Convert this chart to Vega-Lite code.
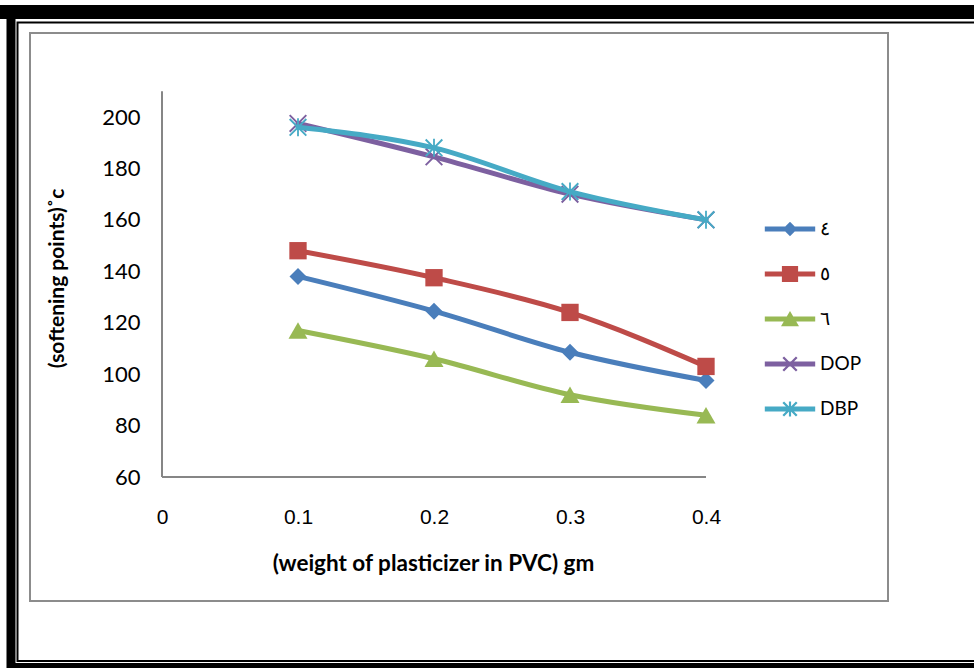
{
  "$schema": "https://vega.github.io/schema/vega-lite/v6.json",
  "width": 858,
  "height": 568,
  "autosize": {"type": "none"},
  "padding": {"left": 30, "top": 33, "right": 86, "bottom": 67},
  "background": "white",
  "config": {
    "view": {"stroke": "#8c8c8c", "strokeWidth": 2},
    "axis": {"grid": false, "domain": false, "ticks": false}
  },
  "datasets": {
    "pts": [
      {"series": "٤", "x": 0.1, "y": 138},
      {"series": "٤", "x": 0.2, "y": 124.5},
      {"series": "٤", "x": 0.3, "y": 108.5},
      {"series": "٤", "x": 0.4, "y": 97.5},
      {"series": "٥", "x": 0.1, "y": 148},
      {"series": "٥", "x": 0.2, "y": 137.5},
      {"series": "٥", "x": 0.3, "y": 124},
      {"series": "٥", "x": 0.4, "y": 103},
      {"series": "٦", "x": 0.1, "y": 117},
      {"series": "٦", "x": 0.2, "y": 106},
      {"series": "٦", "x": 0.3, "y": 92},
      {"series": "٦", "x": 0.4, "y": 84},
      {"series": "DOP", "x": 0.1, "y": 197.5},
      {"series": "DOP", "x": 0.2, "y": 184.5},
      {"series": "DOP", "x": 0.3, "y": 170},
      {"series": "DOP", "x": 0.4, "y": 160},
      {"series": "DBP", "x": 0.1, "y": 196},
      {"series": "DBP", "x": 0.2, "y": 188},
      {"series": "DBP", "x": 0.3, "y": 171},
      {"series": "DBP", "x": 0.4, "y": 160}
    ],
    "one": [{"k": 1}]
  },
  "layer": [
    {
      "data": {"name": "one"},
      "mark": {"type": "rule", "color": "#868686", "strokeWidth": 2},
      "encoding": {
        "x": {"datum": 0, "type": "quantitative",
          "scale": {"domain": [-0.097059, 0.533824], "nice": false, "zero": false},
          "axis": {
            "values": [0, 0.1, 0.2, 0.3, 0.4],
            "format": "~g",
            "offset": -124,
            "labelPadding": 29,
            "labelFont": "Liberation Sans",
            "labelFontSize": 21,
            "labelColor": "black",
            "title": "(weight of plasticizer in PVC) gm",
            "titleFont": "Lato",
            "titleFontSize": 22.5,
            "titleFontWeight": "bold",
            "titleColor": "black",
            "titleX": 403,
            "titleY": 86,
            "titleBaseline": "middle",
            "titleAlign": "center"
          }
        },
        "x2": {"datum": 0.4},
        "y": {"datum": 60, "type": "quantitative",
          "scale": {"domain": [11.778, 232.667], "nice": false, "zero": false},
          "axis": {
            "values": [60, 80, 100, 120, 140, 160, 180, 200],
            "offset": -132,
            "labelPadding": 22,
            "labelFont": "Lato",
            "labelFontSize": 22,
            "labelColor": "black",
            "title": "(softening points)˚c",
            "titleFont": "Lato",
            "titleFontSize": 21,
            "titleFontWeight": "bold",
            "titleColor": "black",
            "titleX": -105,
            "titleY": 245,
            "titleAngle": -90,
            "titleBaseline": "middle",
            "titleAlign": "center"
          }
        }
      }
    },
    {
      "data": {"name": "one"},
      "mark": {"type": "rule", "color": "#868686", "strokeWidth": 2},
      "encoding": {
        "x": {"datum": 0, "type": "quantitative"},
        "y": {"datum": 60, "type": "quantitative"},
        "y2": {"datum": 210}
      }
    },
    {
      "data": {"name": "one"},
      "mark": {"type": "rect", "filled": false, "color": "black", "strokeWidth": 9},
      "encoding": {
        "x": {"datum": -0.11103, "type": "quantitative"},
        "x2": {"datum": 0.60882},
        "y": {"datum": 241.61, "type": "quantitative"},
        "y2": {"datum": -14.08}
      }
    },
    {
      "data": {"name": "one"},
      "mark": {"type": "rect", "filled": true, "color": "black"},
      "encoding": {
        "x": {"datum": -0.12279, "type": "quantitative"},
        "x2": {"datum": 0.60882},
        "y": {"datum": 243.56, "type": "quantitative"},
        "y2": {"datum": 238.11}
      }
    },
    {
      "data": {"name": "one"},
      "mark": {"type": "rect", "filled": false, "color": "black", "strokeWidth": 2},
      "encoding": {
        "x": {"datum": -0.10625, "type": "quantitative"},
        "x2": {"datum": 0.60515},
        "y": {"datum": 236.75, "type": "quantitative"},
        "y2": {"datum": -11.56}
      }
    },
    {
      "data": {"name": "pts"},
      "layer": [
        {
          "transform": [{"filter": "datum.series === '٤'"}],
          "mark": {"type": "line", "color": "#4A7EBB", "strokeWidth": 5, "interpolate": "monotone", "strokeCap": "round", "strokeJoin": "round"},
          "encoding": {"x": {"field": "x", "type": "quantitative"}, "y": {"field": "y", "type": "quantitative"}}
        },
        {
          "transform": [{"filter": "datum.series === '٤'"}],
          "mark": {"type": "point", "shape": "diamond", "filled": true, "color": "#4A7EBB", "opacity": 1, "size": 289},
          "encoding": {"x": {"field": "x", "type": "quantitative"}, "y": {"field": "y", "type": "quantitative"}}
        },
        {
          "transform": [{"filter": "datum.series === '٥'"}],
          "mark": {"type": "line", "color": "#BE4B48", "strokeWidth": 5, "interpolate": "monotone", "strokeCap": "round", "strokeJoin": "round"},
          "encoding": {"x": {"field": "x", "type": "quantitative"}, "y": {"field": "y", "type": "quantitative"}}
        },
        {
          "transform": [{"filter": "datum.series === '٥'"}],
          "mark": {"type": "point", "shape": "square", "filled": true, "color": "#BE4B48", "opacity": 1, "size": 300},
          "encoding": {"x": {"field": "x", "type": "quantitative"}, "y": {"field": "y", "type": "quantitative"}}
        },
        {
          "transform": [{"filter": "datum.series === '٦'"}],
          "mark": {"type": "line", "color": "#98B954", "strokeWidth": 5, "interpolate": "monotone", "strokeCap": "round", "strokeJoin": "round"},
          "encoding": {"x": {"field": "x", "type": "quantitative"}, "y": {"field": "y", "type": "quantitative"}}
        },
        {
          "transform": [{"filter": "datum.series === '٦'"}],
          "mark": {"type": "point", "shape": "triangle-up", "filled": true, "color": "#98B954", "opacity": 1, "size": 361},
          "encoding": {"x": {"field": "x", "type": "quantitative"}, "y": {"field": "y", "type": "quantitative"}}
        },
        {
          "transform": [{"filter": "datum.series === 'DOP'"}],
          "mark": {"type": "line", "color": "#7D60A0", "strokeWidth": 5, "interpolate": "monotone", "strokeCap": "round", "strokeJoin": "round"},
          "encoding": {"x": {"field": "x", "type": "quantitative"}, "y": {"field": "y", "type": "quantitative"}}
        },
        {
          "transform": [{"filter": "datum.series === 'DOP'"}],
          "mark": {"type": "point", "shape": "M-1,-0.85L-0.85,-1L1,0.85L0.85,1Z M0.85,-1L1,-0.85L-0.85,1L-1,0.85Z", "filled": true, "color": "#7D60A0", "opacity": 1, "size": 324},
          "encoding": {"x": {"field": "x", "type": "quantitative"}, "y": {"field": "y", "type": "quantitative"}}
        },
        {
          "transform": [{"filter": "datum.series === 'DBP'"}],
          "mark": {"type": "line", "color": "#46AAC5", "strokeWidth": 5, "interpolate": "monotone", "strokeCap": "round", "strokeJoin": "round"},
          "encoding": {"x": {"field": "x", "type": "quantitative"}, "y": {"field": "y", "type": "quantitative"}}
        },
        {
          "transform": [{"filter": "datum.series === 'DBP'"}],
          "mark": {"type": "point", "shape": "M-1,-0.85L-0.85,-1L1,0.85L0.85,1Z M0.85,-1L1,-0.85L-0.85,1L-1,0.85Z M-0.1,-1H0.1V1H-0.1Z", "filled": true, "color": "#46AAC5", "opacity": 1, "size": 324},
          "encoding": {"x": {"field": "x", "type": "quantitative"}, "y": {"field": "y", "type": "quantitative"}}
        },
        {
          "transform": [{"filter": "datum.y < 0"}],
          "mark": {"type": "point", "filled": true, "opacity": 1, "size": 1296},
          "encoding": {
            "x": {"field": "x", "type": "quantitative"},
            "y": {"field": "y", "type": "quantitative"},
            "color": {
              "field": "series",
              "type": "nominal",
              "scale": {"domain": ["٤", "٥", "٦", "DOP", "DBP"], "range": ["#4A7EBB", "#BE4B48", "#98B954", "#7D60A0", "#46AAC5"]},
              "legend": {
                "title": null,
                "orient": "none",
                "legendX": 742,
                "legendY": 178,
                "padding": 0,
                "symbolSize": 1296,
                "symbolStrokeWidth": 0,
                "symbolOpacity": 1,
                "rowPadding": 17,
                "labelOffset": 12,
                "labelFont": "Lato",
                "labelFontSize": 19,
                "labelColor": "black"
              }
            },
            "shape": {
              "field": "series",
              "type": "nominal",
              "scale": {
                "domain": ["٤", "٥", "٦", "DOP", "DBP"],
                "range": [
                  "M-1.4,-0.14H1.4V0.14H-1.4Z M-0.4,0L0,-0.4L0.4,0L0,0.4Z",
                  "M-1.4,-0.14H1.4V0.14H-1.4Z M-0.45,-0.45H0.45V0.45H-0.45Z",
                  "M-1.4,-0.14H1.4V0.14H-1.4Z M0,-0.45L0.5,0.4H-0.5Z",
                  "M-1.4,-0.14H1.4V0.14H-1.4Z M-0.42,-0.33L-0.33,-0.42L0.42,0.33L0.33,0.42Z M0.33,-0.42L0.42,-0.33L-0.33,0.42L-0.42,0.33Z",
                  "M-1.4,-0.14H1.4V0.14H-1.4Z M-0.42,-0.33L-0.33,-0.42L0.42,0.33L0.33,0.42Z M0.33,-0.42L0.42,-0.33L-0.33,0.42L-0.42,0.33Z M-0.06,-0.42H0.06V0.42H-0.06Z"
                ]
              }
            }
          }
        }
      ]
    }
  ]
}
